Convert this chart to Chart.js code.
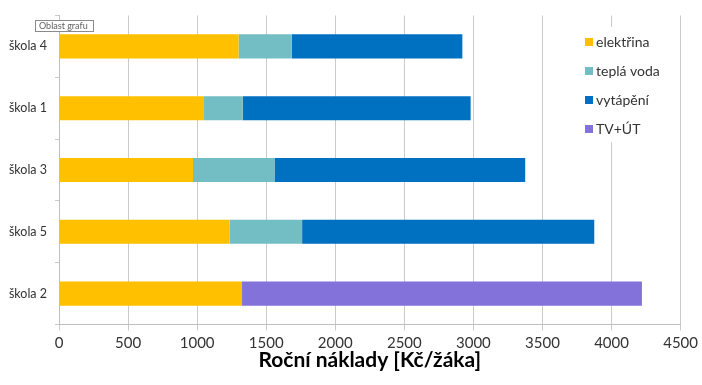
<!DOCTYPE html>
<html>
<head>
<meta charset="utf-8">
<script src="https://cdn.jsdelivr.net/npm/chart.js@4"></script>
<style>
  html, body { margin: 0; padding: 0; background: #fff; }
  #wrap { width: 702px; height: 385px; }
</style>
</head>
<body>
<div id="wrap"><canvas id="naklady" width="702" height="385"></canvas></div>
<script>
// roční náklady na žáka, Kč
const skoly     = ['škola 4', 'škola 1', 'škola 3', 'škola 5', 'škola 2'];
const elektrina = [1300, 1050, 970, 1235, 1325];
const teplaVoda = [385, 280, 590, 525, null];
const vytapeni  = [1235, 1650, 1815, 2115, null];
const tvUt      = [null, null, null, null, 2895];
const osaMax = 4500, osaKrok = 500;

const FONT = 'Lato, "Open Sans", sans-serif';
const GRID = '#cbcbcb';

// legenda je uvnitř grafu vpravo nahoře, s bílým podkladem
const legendaUvnitr = {
  id: 'legendaUvnitr',
  afterDatasetsDraw(chart) {
    const ctx = chart.ctx;
    const x0 = 578, y0 = 27, w = 100, h = 115;
    ctx.save();
    ctx.fillStyle = '#fff';
    ctx.fillRect(x0, y0, w, h);
    ctx.font = '14px ' + FONT;
    ctx.textBaseline = 'middle';
    chart.data.datasets.forEach((ds, i) => {
      const y = 42 + i * 29;
      ctx.fillStyle = ds.backgroundColor;
      ctx.fillRect(585, y - 4, 8, 8);
      ctx.fillStyle = '#333';
      ctx.fillText(ds.label, 596, y);
    });
    ctx.restore();
  }
};

// popisek "Oblast grafu" vlevo nahoře
const oblastGrafu = {
  id: 'oblastGrafu',
  afterDraw(chart) {
    const ctx = chart.ctx;
    ctx.save();
    ctx.fillStyle = '#fff';
    ctx.fillRect(35.5, 20.5, 58, 11);
    ctx.strokeStyle = '#8a8a8a';
    ctx.lineWidth = 1;
    ctx.strokeRect(35.5, 20.5, 58, 11);
    ctx.fillStyle = '#606060';
    ctx.font = '9px ' + FONT;
    ctx.textBaseline = 'middle';
    ctx.fillText('Oblast grafu', 39, 26.5);
    ctx.restore();
  }
};

new Chart(document.getElementById('naklady'), {
  type: 'bar',
  data: {
    labels: skoly,
    datasets: [
      { label: 'elektřina',  data: elektrina, backgroundColor: '#ffc000' },
      { label: 'teplá voda', data: teplaVoda, backgroundColor: '#73bdc4' },
      { label: 'vytápění',   data: vytapeni,  backgroundColor: '#0070c0' },
      { label: 'TV+ÚT',      data: tvUt,      backgroundColor: '#8272da' }
    ]
  },
  options: {
    indexAxis: 'y',
    responsive: false,
    animation: false,
    layout: { padding: { top: 8.5, right: 21, bottom: 0, left: 0 } },
    datasets: { bar: { categoryPercentage: 1, barPercentage: 0.39, borderWidth: 0 } },
    plugins: { legend: { display: false }, tooltip: { enabled: false } },
    scales: {
      x: {
        stacked: true,
        min: 0, max: osaMax,
        afterFit: s => { s.height = 385 - 324.5; },
        ticks: {
          stepSize: osaKrok, color: '#333', padding: 4,
          font: { family: FONT, size: 15 },
          callback: v => String(v)
        },
        grid: { color: GRID, tickLength: 6 },
        border: { color: '#bfbfbf' },
        title: {
          display: true, text: 'Roční náklady [Kč/žáka]', color: '#000',
          font: { family: FONT, size: 21, weight: 'bold' }, padding: { top: 0, bottom: 12 }
        }
      },
      y: {
        stacked: true,
        afterFit: s => { s.width = 59; },
        ticks: { color: '#333', padding: 8, font: { family: FONT, size: 12.5 } },
        grid: { drawOnChartArea: false, tickLength: 4, color: GRID },
        border: { color: '#bfbfbf' }
      }
    }
  },
  plugins: [legendaUvnitr, oblastGrafu]
});
</script>
</body>
</html>
